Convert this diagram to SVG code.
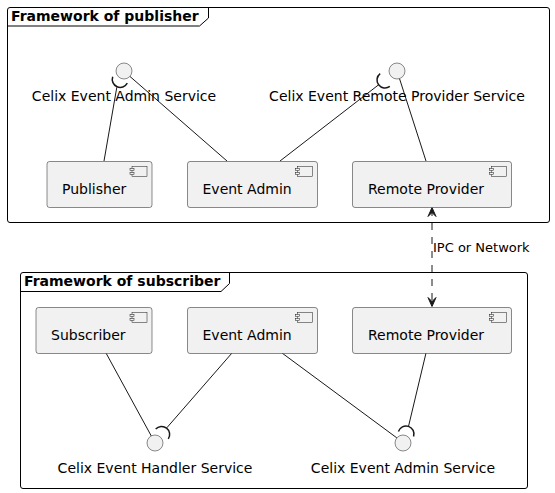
<svg xmlns="http://www.w3.org/2000/svg" width="555" height="493" viewBox="0 0 555 493">
<style>
text{font-family:"DejaVu Sans","Liberation Sans",sans-serif;fill:#000}
.frame{fill:none;stroke:#000;stroke-width:1}
.flabel{font-size:14px;font-weight:bold}
.comp{fill:#F1F1F1;stroke:#181818;stroke-width:0.5}
.ctext{font-size:14px}
.itext{font-size:14px;text-anchor:middle}
.iface{fill:#F1F1F1;stroke:#181818;stroke-width:0.5}
.icon{fill:#F1F1F1;stroke:#181818;stroke-width:0.5}
.line{fill:none;stroke:#181818;stroke-width:1}
.socket{fill:none;stroke:#181818;stroke-width:1.5}
.dash{fill:none;stroke:#181818;stroke-width:1;stroke-dasharray:7,7}
.head{fill:#181818;stroke:#181818;stroke-width:1}
.elabel{font-size:13px}
</style>
<rect width="555" height="493" fill="#FFFFFF"/>

<g id="frame-publisher">
<rect class="frame" x="7.5" y="7.5" width="542" height="215" rx="2.5"/>
<path class="frame" d="M7.5,26 L199.5,26 L208.5,18 L208.5,7.5"/>
<text class="flabel" x="11" y="21">Framework of publisher</text>
</g>

<g id="frame-subscriber">
<rect class="frame" x="20.5" y="272.5" width="507" height="216" rx="2.5"/>
<path class="frame" d="M20.5,291.5 L221,291.5 L229.5,283.5 L229.5,272.5"/>
<text class="flabel" x="24" y="286">Framework of subscriber</text>
</g>

<g id="connectors">
<line class="line" x1="104" y1="161" x2="116.8" y2="87.3"/>
<line class="line" x1="227" y1="161" x2="130" y2="76.5"/>
<line class="line" x1="280" y1="161" x2="378.6" y2="84.8"/>
<line class="line" x1="426" y1="161" x2="399.5" y2="78.6"/>
<line class="line" x1="106" y1="353" x2="151.3" y2="436"/>
<line class="line" x1="232" y1="353" x2="166.9" y2="427.7"/>
<line class="line" x1="282" y1="353" x2="397" y2="438"/>
<line class="line" x1="426" y1="353" x2="408.5" y2="426.4"/>
<path class="socket" d="M127.3,83.2 A8,8 0 0 1 112.7,76.8"/>
<path class="socket" d="M389.8,86.4 A8,8 0 0 1 380.2,73.6"/>
<path class="socket" d="M155.7,429.1 A8,8 0 0 1 168.3,438.9"/>
<path class="socket" d="M398.4,431.5 A8,8 0 0 1 413.6,436.5"/>
<line class="dash" x1="432" y1="209" x2="432" y2="305"/>
<polygon class="head" points="432,207.5 428,216.5 432,212.5 436,216.5"/>
<polygon class="head" points="432,306.5 428,297.5 432,301.5 436,297.5"/>
<text class="elabel" x="433" y="252">IPC or Network</text>
</g>

<g id="iface-admin-service-pub">
<circle class="iface" cx="124" cy="71" r="8"/>
<text class="itext" x="124" y="101">Celix Event Admin Service</text>
</g>

<g id="iface-remote-provider-service">
<circle class="iface" cx="397" cy="71" r="8"/>
<text class="itext" x="397" y="101">Celix Event Remote Provider Service</text>
</g>

<g id="comp-publisher">
<rect class="comp" x="47" y="161.5" width="105" height="46" rx="2.5"/>
<rect class="icon" x="132" y="166.5" width="15" height="10"/>
<rect class="icon" x="130" y="168.5" width="4" height="2"/>
<rect class="icon" x="130" y="172.5" width="4" height="2"/>
<text class="ctext" x="62" y="194">Publisher</text>
</g>

<g id="comp-event-admin-pub">
<rect class="comp" x="187.5" y="161.5" width="130" height="46" rx="2.5"/>
<rect class="icon" x="297.5" y="166.5" width="15" height="10"/>
<rect class="icon" x="295.5" y="168.5" width="4" height="2"/>
<rect class="icon" x="295.5" y="172.5" width="4" height="2"/>
<text class="ctext" x="202.5" y="194">Event Admin</text>
</g>

<g id="comp-remote-provider-pub">
<rect class="comp" x="352.5" y="161.5" width="159" height="46" rx="2.5"/>
<rect class="icon" x="491.5" y="166.5" width="15" height="10"/>
<rect class="icon" x="489.5" y="168.5" width="4" height="2"/>
<rect class="icon" x="489.5" y="172.5" width="4" height="2"/>
<text class="ctext" x="368" y="194">Remote Provider</text>
</g>

<g id="comp-subscriber">
<rect class="comp" x="36" y="307.5" width="116" height="46" rx="2.5"/>
<rect class="icon" x="132" y="312.5" width="15" height="10"/>
<rect class="icon" x="130" y="314.5" width="4" height="2"/>
<rect class="icon" x="130" y="318.5" width="4" height="2"/>
<text class="ctext" x="51" y="340">Subscriber</text>
</g>

<g id="comp-event-admin-sub">
<rect class="comp" x="187.5" y="307.5" width="130" height="46" rx="2.5"/>
<rect class="icon" x="297.5" y="312.5" width="15" height="10"/>
<rect class="icon" x="295.5" y="314.5" width="4" height="2"/>
<rect class="icon" x="295.5" y="318.5" width="4" height="2"/>
<text class="ctext" x="202.5" y="340">Event Admin</text>
</g>

<g id="comp-remote-provider-sub">
<rect class="comp" x="352.5" y="307.5" width="159" height="46" rx="2.5"/>
<rect class="icon" x="491.5" y="312.5" width="15" height="10"/>
<rect class="icon" x="489.5" y="314.5" width="4" height="2"/>
<rect class="icon" x="489.5" y="318.5" width="4" height="2"/>
<text class="ctext" x="368" y="340">Remote Provider</text>
</g>

<g id="iface-event-handler-service">
<circle class="iface" cx="155" cy="443" r="8"/>
<text class="itext" x="155" y="473">Celix Event Handler Service</text>
</g>

<g id="iface-admin-service-sub">
<circle class="iface" cx="403" cy="443" r="8"/>
<text class="itext" x="403" y="473">Celix Event Admin Service</text>
</g>
</svg>
